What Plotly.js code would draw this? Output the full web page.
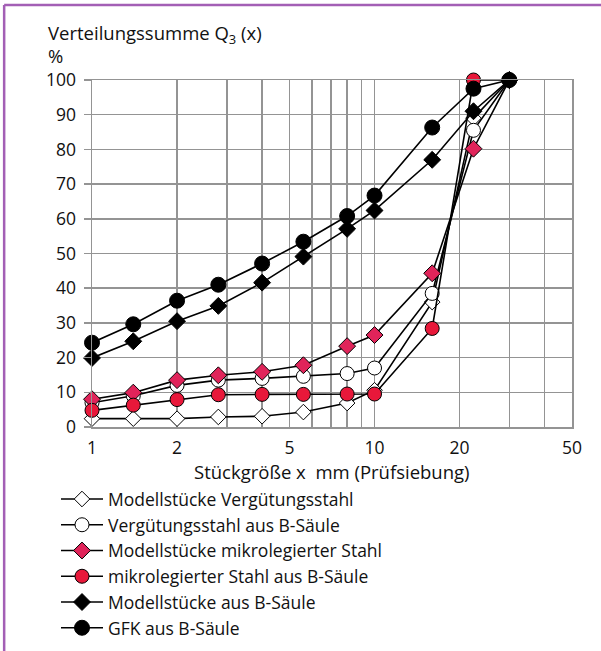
<!DOCTYPE html>
<html>
<head>
<meta charset="utf-8">
<script src="https://cdn.plot.ly/plotly-3.0.1.min.js"></script>
<style>html,body{margin:0;padding:0;background:#fff;}#chart{width:601px;height:651px;}</style>
</head>
<body>
<div id="chart"></div>
<script>
const sizes = [1, 1.4, 2, 2.8, 4, 5.6, 8, 10, 16, 22.4, 30];
const seriesNames = [
  'Modellstücke Vergütungsstahl',
  'Vergütungsstahl aus B-Säule',
  'Modellstücke mikrolegierter Stahl',
  'mikrolegierter Stahl aus B-Säule',
  'Modellstücke aus B-Säule',
  'GFK aus B-Säule'
];
const modellVerg = [2.4, 2.4, 2.4, 2.9, 3.1, 4.3, 6.9, 10.6, 36, 89, 100];
const vergBSaeule = [7, 9.0, 12.0, 13.5, 14.0, 14.6, 15.4, 17.0, 38.5, 85.5, 100];
const modellMikro = [8.0, 9.9, 13.5, 14.9, 15.9, 17.8, 23.3, 26.5, 44.3, 80.2, 100];
const mikroBSaeule = [4.8, 6.3, 7.9, 9.3, 9.4, 9.4, 9.5, 9.5, 28.4, 100, 100];
const modellBSaeule = [19.9, 24.7, 30.5, 34.9, 41.6, 49.1, 57.1, 62.4, 77.0, 91.0, 100];
const gfkBSaeule = [24.3, 29.6, 36.4, 41.0, 47.1, 53.4, 60.8, 66.7, 86.3, 97.5, 100];
const xTickVals = [1, 2, 3, 4, 5, 6, 7, 8, 9, 10, 20, 30, 40, 50];
const xTickText = ['1', '2', '', '', '5', '', '', '', '', '10', '20', '', '', '50'];

const allSeries = [modellVerg, vergBSaeule, modellMikro, mikroBSaeule, modellBSaeule, gfkBSaeule];
const styles = [
  {symbol: 'diamond', color: '#ffffff', size: 12},
  {symbol: 'circle', color: '#ffffff', size: 14},
  {symbol: 'diamond', color: '#e0245a', size: 13},
  {symbol: 'circle', color: '#e8183a', size: 14},
  {symbol: 'diamond', color: '#000000', size: 13},
  {symbol: 'circle', color: '#000000', size: 15}
];
const traces = allSeries.map((ys, i) => ({
  type: 'scatter', mode: 'lines+markers', name: seriesNames[i],
  x: sizes, y: ys,
  line: {color: '#000', width: 1.6},
  marker: {symbol: styles[i].symbol, color: styles[i].color, size: styles[i].size,
           line: {color: '#000', width: 1}},
  cliponaxis: false
}));

const fam = 'Open Sans, Noto Sans, sans-serif';
const font = {family: fam, size: 18.5, color: '#111'};
const tickFont = {family: fam, size: 17.5, color: '#111'};
const layout = {
  width: 601, height: 651,
  margin: {l: 92, r: 29, t: 80, b: 224, pad: 0, autoexpand: false},
  paper_bgcolor: '#fff', plot_bgcolor: '#fff',
  font: font,
  showlegend: true,
  legend: {x: -0.075, xanchor: 'left', y: -0.156, yanchor: 'top',
           font: {family: fam, size: 17.5, color: '#111'},
           bgcolor: 'rgba(0,0,0,0)', tracegroupgap: 0, itemwidth: 42},
  xaxis: {type: 'log', range: [0, Math.log10(50)], automargin: false,
          tickmode: 'array', tickvals: xTickVals, ticktext: xTickText, tickangle: 0,
          showgrid: true, gridcolor: '#949494', gridwidth: 1.5,
          showline: true, linecolor: '#949494', linewidth: 1.5, mirror: true,
          ticks: '', ticklabelstandoff: 4, zeroline: false,
          tickfont: tickFont},
  yaxis: {range: [0, 100], dtick: 10, tick0: 0, automargin: false,
          showgrid: true, gridcolor: '#949494', gridwidth: 1.5,
          showline: true, linecolor: '#949494', linewidth: 1.5, mirror: true,
          ticks: 'outside', ticklen: 7, tickcolor: '#949494', tickwidth: 1.5,
          ticklabelstandoff: 4, zeroline: false,
          tickfont: tickFont},
  annotations: [
    {xref: 'paper', yref: 'paper', x: -0.095, y: 1.134, xanchor: 'left', yanchor: 'middle',
     text: 'Verteilungssumme Q<sub>3</sub> (x)', showarrow: false, font: font},
    {xref: 'paper', yref: 'paper', x: -0.095, y: 1.072, xanchor: 'left', yanchor: 'middle',
     text: '%', showarrow: false, font: font},
    {xref: 'paper', yref: 'paper', x: 0.5, y: -0.127, xanchor: 'center', yanchor: 'middle',
     text: 'Stückgröße x  mm (Prüfsiebung)', showarrow: false, font: font}
  ],
  shapes: [
    {type: 'line', xref: 'paper', yref: 'paper', x0: -0.183, x1: 1.1, y0: 1.216, y1: 1.216,
     line: {color: '#a35fb5', width: 2.5}},
    {type: 'line', xref: 'paper', yref: 'paper', x0: -0.183, x1: -0.183, y0: 1.216, y1: -0.66,
     line: {color: '#a35fb5', width: 2.5}}
  ]
};
Plotly.newPlot('chart', traces, layout, {displayModeBar: false, staticPlot: true});
</script>
</body>
</html>
